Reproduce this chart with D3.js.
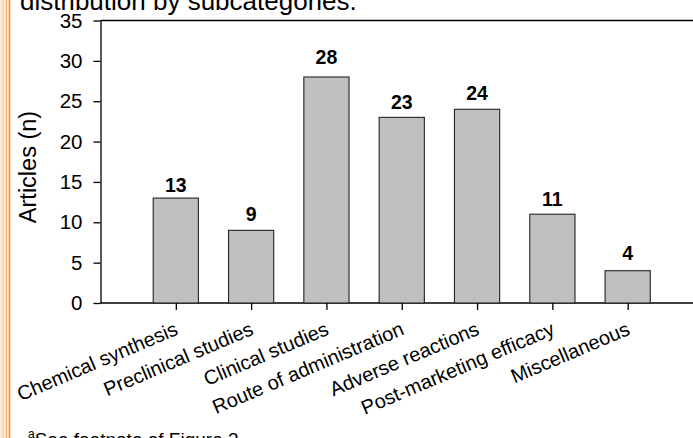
<!DOCTYPE html>
<html>
<head>
<meta charset="utf-8">
<script src="https://cdn.jsdelivr.net/npm/d3@7"></script>
<style>
  html, body { margin: 0; padding: 0; background: #fff; }
  svg { display: block; font-family: Arial, "Liberation Sans", sans-serif; }
</style>
</head>
<body>
<svg id="chart" width="693" height="438"></svg>
<script>
// Articles per subcategory
const categories = [
  "Chemical synthesis",
  "Preclinical studies",
  "Clinical studies",
  "Route of administration",
  "Adverse reactions",
  "Post-marketing efficacy",
  "Miscellaneous"
];
const articles = [13, 9, 28, 23, 24, 11, 4];
const yTicks = [0, 5, 10, 15, 20, 25, 30, 35];

const svg = d3.select("#chart");
const W = 693, H = 438;
const FONT = "Arial, 'Liberation Sans', sans-serif";

// page margin decoration on the left edge
svg.append("rect").attr("x", 0).attr("y", 0).attr("width", 10).attr("height", H).attr("fill", "#fde9d4");
svg.append("line").attr("x1", 3).attr("x2", 3).attr("y1", 0).attr("y2", H).attr("stroke", "#f9c796").attr("stroke-width", 1);
svg.append("line").attr("x1", 6.5).attr("x2", 6.5).attr("y1", 0).attr("y2", H).attr("stroke", "#f7b574").attr("stroke-width", 1);
svg.append("line").attr("x1", 9.5).attr("x2", 9.5).attr("y1", 0).attr("y2", H).attr("stroke", "#f39337").attr("stroke-width", 1.6);

// heading (partly above the visible area)
svg.append("text")
  .attr("x", 20).attr("y", 10)
  .attr("font-size", 26)
  .attr("fill", "#000")
  .text("distribution by subcategories.");

const plotLeft = 100.5, plotRight = 703, plotTop = 20.5, plotBottom = 303;

const x = d3.scalePoint().domain(categories).range([plotLeft, plotRight]).padding(1);
const y = d3.scaleLinear().domain([0, 35]).range([plotBottom, plotTop]);
const barW = x.step() * 0.6;

// frame: top and bottom rules across, left axis
svg.append("line").attr("x1", plotLeft).attr("x2", W).attr("y1", plotTop).attr("y2", plotTop)
  .attr("stroke", "#000").attr("stroke-width", 1.3);
svg.append("line").attr("x1", plotLeft).attr("x2", W).attr("y1", plotBottom).attr("y2", plotBottom)
  .attr("stroke", "#000").attr("stroke-width", 1.3);

// bars
svg.append("g").selectAll("rect").data(categories).join("rect")
  .attr("x", d => x(d) - barW / 2)
  .attr("y", (d, i) => y(articles[i]))
  .attr("width", barW)
  .attr("height", (d, i) => y(0) - y(articles[i]))
  .attr("fill", "#c0c0c0")
  .attr("stroke", "#222")
  .attr("stroke-width", 1.1);

// value labels, each lifted a little above its bar
const labelLift = [6, 9, 13, 8, 9, 8, 11];
svg.append("g").selectAll("text").data(categories).join("text")
  .attr("x", d => x(d))
  .attr("y", (d, i) => y(articles[i]) - labelLift[i])
  .attr("text-anchor", "middle")
  .attr("font-size", 19.5)
  .attr("font-weight", "bold")
  .text((d, i) => articles[i]);

// y axis
const yAxis = d3.axisLeft(y).tickValues(yTicks).tickSize(7).tickPadding(11).tickSizeOuter(0);
const gy = svg.append("g").attr("transform", `translate(${plotLeft},0)`).call(yAxis);
gy.select(".domain").attr("stroke", "#000").attr("stroke-width", 1.3);
gy.selectAll(".tick line").attr("stroke", "#000").attr("stroke-width", 1.3);
gy.selectAll(".tick text").attr("font-size", 20.5).attr("fill", "#000").attr("font-family", FONT);

// x axis
const xAxis = d3.axisBottom(x).tickSize(7).tickSizeOuter(0);
const gx = svg.append("g").attr("transform", `translate(0,${plotBottom})`).call(xAxis);
gx.select(".domain").remove();
gx.selectAll(".tick line").attr("stroke", "#000").attr("stroke-width", 1.3);
gx.selectAll(".tick text")
  .attr("font-size", 20).attr("fill", "#000")
  .attr("font-family", FONT)
  .attr("text-anchor", "end")
  .attr("dy", null)
  .attr("y", 0)
  .attr("transform", "translate(3,31) rotate(-23)");

// y axis title
svg.append("text")
  .attr("transform", `translate(36,167) rotate(-90)`)
  .attr("text-anchor", "middle")
  .attr("font-size", 23.5)
  .text("Articles (n)");

// footnote
const fn = svg.append("text").attr("x", 28).attr("y", 446).attr("font-size", 19);
fn.append("tspan").attr("font-size", 12).attr("dy", -8).text("a");
fn.append("tspan").attr("dy", 8).text("See footnote of Figure 3");
</script>
</body>
</html>
